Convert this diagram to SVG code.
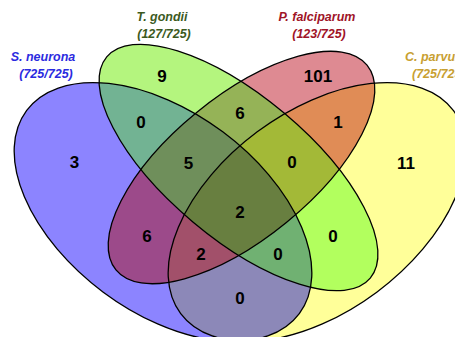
<svg xmlns="http://www.w3.org/2000/svg" width="455" height="337" viewBox="0 0 455 337">
<style>
.o{fill:none;stroke:#000;stroke-width:1.3}
.n{font-family:"Liberation Sans",Arial,sans-serif;font-weight:bold;font-size:17px;text-anchor:middle;fill:#000}
.t{font-family:"Liberation Sans",Arial,sans-serif;font-weight:bold;font-style:italic;font-size:12.5px;text-anchor:middle}
.s{text-anchor:start}
</style>
<defs>
<ellipse id="eB" cx="163" cy="212" rx="170" ry="100" transform="rotate(36.7 163 212)"/>
<ellipse id="eG" cx="238.5" cy="167.5" rx="172" ry="71" transform="rotate(40 238.5 167.5)"/>
<ellipse id="eR" cx="241.5" cy="167.5" rx="162" ry="71" transform="rotate(-39.2 241.5 167.5)"/>
<ellipse id="eY" cx="317" cy="212" rx="170" ry="100" transform="rotate(-36.7 317 212)"/>
<clipPath id="cB"><use href="#eB"/></clipPath>
<clipPath id="cG"><use href="#eG"/></clipPath>
<clipPath id="cR"><use href="#eR"/></clipPath>
<clipPath id="cY"><use href="#eY"/></clipPath>
</defs>
<g id="regions">
<use href="#eB" fill="#8C84FF"/>
<use href="#eG" fill="#B4F57E"/>
<use href="#eR" fill="#DE8A92"/>
<use href="#eY" fill="#FFFF99"/>
<g clip-path="url(#cB)"><use href="#eG" fill="#72B393"/></g>
<g clip-path="url(#cB)"><use href="#eR" fill="#9C4A8A"/></g>
<g clip-path="url(#cB)"><use href="#eY" fill="#8C88B8"/></g>
<g clip-path="url(#cG)"><use href="#eR" fill="#95B357"/></g>
<g clip-path="url(#cG)"><use href="#eY" fill="#B2FF5E"/></g>
<g clip-path="url(#cR)"><use href="#eY" fill="#E08C56"/></g>
<g clip-path="url(#cB)"><g clip-path="url(#cG)"><use href="#eR" fill="#6F8F5B"/></g></g>
<g clip-path="url(#cB)"><g clip-path="url(#cG)"><use href="#eY" fill="#70B172"/></g></g>
<g clip-path="url(#cB)"><g clip-path="url(#cR)"><use href="#eY" fill="#A2506A"/></g></g>
<g clip-path="url(#cG)"><g clip-path="url(#cR)"><use href="#eY" fill="#A3B937"/></g></g>
<g clip-path="url(#cB)"><g clip-path="url(#cG)"><g clip-path="url(#cR)"><use href="#eY" fill="#687F40"/></g></g></g>
</g>
<g id="s-neurona">
<use href="#eB" class="o"/>
<text class="t" x="43" y="61" fill="#2B2BE0">S. neurona</text>
<text class="t" x="46" y="78" fill="#2B2BE0">(725/725)</text>
</g>
<g id="t-gondii">
<use href="#eG" class="o"/>
<text class="t" x="162" y="21" fill="#3C5A1E">T. gondii</text>
<text class="t" x="164" y="38" fill="#3C5A1E">(127/725)</text>
</g>
<g id="p-falciparum">
<use href="#eR" class="o"/>
<text class="t" x="317" y="21" fill="#A01428">P. falciparum</text>
<text class="t" x="319" y="38" fill="#A01428">(123/725)</text>
</g>
<g id="c-parvum">
<use href="#eY" class="o"/>
<text class="t s" x="405" y="61" fill="#C8A032">C. parvum</text>
<text class="t s" x="412" y="78" fill="#C8A032">(725/725)</text>
</g>
<g id="counts">
<text class="n" x="74.5" y="168">3</text>
<text class="n" x="162" y="82">9</text>
<text class="n" x="318" y="82">101</text>
<text class="n" x="406" y="169">11</text>
<text class="n" x="141" y="128">0</text>
<text class="n" x="240" y="119">6</text>
<text class="n" x="338" y="128">1</text>
<text class="n" x="188.5" y="169">5</text>
<text class="n" x="292" y="168">0</text>
<text class="n" x="240" y="218">2</text>
<text class="n" x="147" y="242">6</text>
<text class="n" x="333" y="242">0</text>
<text class="n" x="201" y="260">2</text>
<text class="n" x="278" y="260">0</text>
<text class="n" x="240" y="304">0</text>
</g>
</svg>
